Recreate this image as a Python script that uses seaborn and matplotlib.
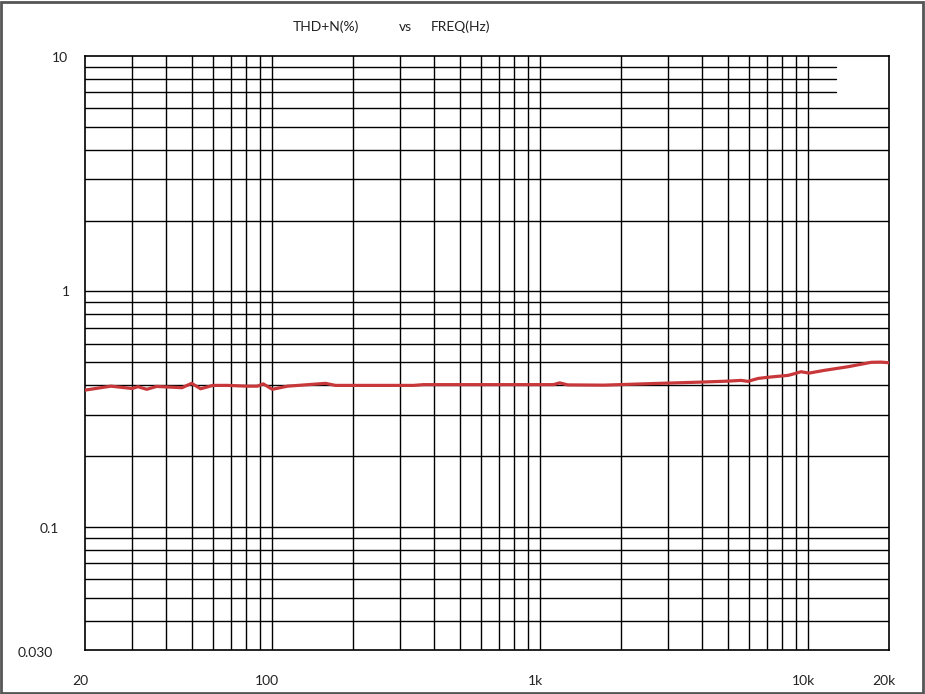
import matplotlib
matplotlib.use("Agg")
import matplotlib.pyplot as plt
import matplotlib.transforms as mtransforms
from matplotlib.patches import Rectangle
from matplotlib.ticker import FixedLocator, NullFormatter
import seaborn as sns
import pandas as pd

# ---- data ----
freq_hz = [20, 25, 30, 31.5, 34, 37, 46, 50, 54, 60, 68, 80, 88, 92.5, 100, 114,
           158, 172, 253, 336, 367, 1120, 1180, 1265, 1725, 2585, 3975, 5010,
           5610, 5950, 6490, 7070, 8400, 8850, 9390, 10070, 11450, 14080, 17160,
           18700, 20000]
thdn_pct = [0.381, 0.396, 0.387, 0.394, 0.384, 0.395, 0.390, 0.407, 0.386, 0.399,
            0.399, 0.396, 0.396, 0.405, 0.384, 0.396, 0.407, 0.399, 0.399, 0.399,
            0.402, 0.402, 0.409, 0.401, 0.400, 0.406, 0.412, 0.416, 0.419, 0.415,
            0.427, 0.432, 0.440, 0.447, 0.456, 0.450, 0.462, 0.479, 0.500, 0.501,
            0.498]

x_tick_vals = [20, 100, 1000, 10000, 20000]
x_tick_labels = ["20", "100", "1k", "10k", "20k"]
y_tick_vals = [10, 1, 0.1, 0.03]
y_tick_labels = ["10", "1", "0.1", "0.030"]
y_minor_full = [0.04, 0.05, 0.06, 0.07, 0.08, 0.09,
                0.2, 0.3, 0.4, 0.5, 0.6, 0.7, 0.8, 0.9,
                2, 3, 4, 5, 6]
y_minor_short = [7, 8, 9]
x_minor = [30, 40, 50, 60, 70, 80, 90,
           200, 300, 400, 500, 600, 700, 800, 900,
           2000, 3000, 4000, 5000, 6000, 7000, 8000, 9000]

df = pd.DataFrame({"freq": freq_hz, "thdn": thdn_pct})

sns.set_style("white")
plt.rcParams["font.family"] = ["Lato", "DejaVu Sans"]

fig = plt.figure(figsize=(9.25, 6.94), dpi=100)
ax = fig.add_axes([85 / 925, 1 - 650 / 694, (889 - 85) / 925, (650 - 56) / 694])

ax.set_xscale("log")
ax.set_yscale("log")
ax.set_xlim(20, 20000)
ax.set_ylim(0.03, 10)

# grid
ax.xaxis.set_major_locator(FixedLocator([100, 1000, 10000]))
ax.xaxis.set_minor_locator(FixedLocator(x_minor))
ax.yaxis.set_major_locator(FixedLocator([0.1, 1]))
ax.yaxis.set_minor_locator(FixedLocator(y_minor_full))
ax.xaxis.set_major_formatter(NullFormatter())
ax.xaxis.set_minor_formatter(NullFormatter())
ax.yaxis.set_major_formatter(NullFormatter())
ax.yaxis.set_minor_formatter(NullFormatter())
ax.tick_params(which="both", length=0)
ax.grid(which="both", color="black", linewidth=1.0)
for yv in y_minor_short:
    ax.axhline(yv, xmin=0, xmax=(836 - 85) / (889 - 85), color="black", linewidth=1.0, zorder=0.5)
ax.set_axisbelow(True)

for s in ax.spines.values():
    s.set_color("black")
    s.set_linewidth(1.2)

sns.lineplot(data=df, x="freq", y="thdn", ax=ax, color="#c8383a", linewidth=2.3, zorder=5)
ax.set_xlabel("")
ax.set_ylabel("")

# tick labels as text
fs = 10
tx = mtransforms.blended_transform_factory(ax.transData, fig.transFigure)
shift = mtransforms.ScaledTranslation(-5 / 100, 0, fig.dpi_scale_trans)
for v, lab in zip(x_tick_vals, x_tick_labels):
    ax.text(v, 1 - 681 / 694, lab, transform=tx + shift, ha="center", va="center",
            fontsize=fs, color="#222222")

ty = mtransforms.blended_transform_factory(fig.transFigure, ax.transData)
y_label_right = [68, 70, 59, 53]
y_label_dy = [-2, -1, -2, -3]
for v, lab, xr, dy in zip(y_tick_vals, y_tick_labels, y_label_right, y_label_dy):
    off = mtransforms.ScaledTranslation(0, dy / 100, fig.dpi_scale_trans)
    ax.text(xr / 925, v, lab, transform=ty + off, ha="right", va="center",
            fontsize=fs, color="#222222")

# title
ty_t = 1 - 27 / 694
fig.text(326 / 925, ty_t, "THD+N(%)", ha="center", va="center", fontsize=fs, color="#222222")
fig.text(405 / 925, ty_t, "vs", ha="center", va="center", fontsize=fs, color="#222222")
fig.text(461 / 925, ty_t, "FREQ(Hz)", ha="center", va="center", fontsize=fs, color="#222222")

# outer border
fig.patches.append(Rectangle((0.001, 0.0015), 0.997, 0.996, transform=fig.transFigure,
                             fill=False, edgecolor="#555555", linewidth=2.0))

fig.savefig("out.png", dpi=100)
